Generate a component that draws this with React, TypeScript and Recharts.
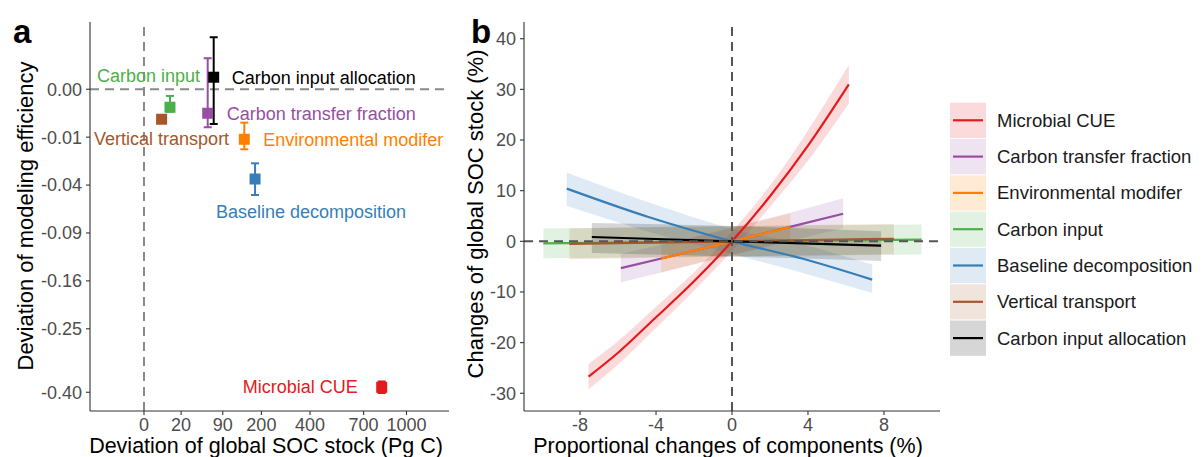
import React from "react";
import {
  ScatterChart,
  Scatter,
  ErrorBar,
  ComposedChart,
  Area,
  Line,
  XAxis,
  YAxis,
  ReferenceLine,
} from "recharts";

const FONT = "'Liberation Sans', Arial, Helvetica, sans-serif";

// parameter groups, in legend order
const PARAMS = [
  "Microbial CUE",
  "Carbon transfer fraction",
  "Environmental modifer",
  "Carbon input",
  "Baseline decomposition",
  "Vertical transport",
  "Carbon input allocation",
];
const COLORS = ["#E41A1C", "#984EA3", "#FF7F00", "#4DAF4A", "#377EB8", "#A65628", "#000000"];

// panel a: deviation of SOC stock (Pg C) vs deviation of modeling efficiency
const SOC_DEV = [820, 58.9, 146, 9.8, 179, 4.5, 70.5];
const EFF_DEV = [-0.387, -0.00251, -0.0109, -0.00141, -0.0351, -0.00392, 0.00063];
const EFF_LOW = [-0.402, -0.00629, -0.0157, -0.00219, -0.0487, -0.00392, -0.00525];
const EFF_HIGH = [-0.372, 0.00419, -0.00486, -0.000196, -0.0239, -0.00392, 0.01178];

const A_X_TICKS = [0, 20, 90, 200, 400, 700, 1000];
const A_Y_TICKS = [0, -0.01, -0.04, -0.09, -0.16, -0.25, -0.4];

// panel b: response curves (x = proportional change %, y = SOC change %)
const CUE_X = [-7.55, -6, -4, -2, 0, 2, 4, 6.15];
const CUE_Y = [-26.7, -22, -15, -7.9, 0, 8.9, 18.9, 31];
const CUE_LO = [-29.2, -24.3, -17.1, -9.7, -1.9, 6.8, 15.9, 27.2];
const CUE_HI = [-24.2, -19.7, -12.9, -6.1, 1.9, 11, 21.9, 34.8];

const CTF_X = [-5.85, -3, 0, 3, 5.85];
const CTF_Y = [-5.3, -2.75, 0, 2.8, 5.45];
const CTF_LO = [-8.1, -5.5, -2.8, 0, 2.6];
const CTF_HI = [-2.5, 0, 2.8, 5.6, 8.5];

const ENV_X = [-3.73, 0, 3.07];
const ENV_Y = [-3.4, 0, 2.83];
const ENV_LO = [-6.1, -2.6, 0.1];
const ENV_HI = [-0.7, 2.6, 5.5];

const CIN_X = [-9.93, 0, 9.98];
const CIN_Y = [-0.4, 0, 0.35];
const CIN_LO = [-3.35, -2.95, -2.6];
const CIN_HI = [2.55, 2.95, 3.3];

const BASE_X = [-8.7, -4.4, 0, 3.69, 7.38];
const BASE_Y = [10.4, 4.8, 0, -3.4, -7.57];
const BASE_LO = [7, 1.9, -2.5, -6.2, -10.2];
const BASE_HI = [13.6, 7.7, 2.5, -0.6, -4.6];

const VT_X = [-8.56, 0, 8.52];
const VT_Y = [-0.5, 0, 0.5];
const VT_LO = [-3.55, -3, -2.55];
const VT_HI = [2.55, 3, 3.4];

const CIA_X = [-7.38, 0, 7.85];
const CIA_Y = [0.85, 0, -0.85];
const CIA_LO = [-2.3, -3, -3.9];
const CIA_HI = [3.6, 3, 2];

const B_X_TICKS = [-8, -4, 0, 4, 8];
const B_Y_TICKS = [-30, -20, -10, 0, 10, 20, 30, 40];

// where each point label sits relative to its marker
const LABEL_POS: Record<string, { anchor: "start" | "middle" | "end"; dx: number; dy: number }> = {
  "Microbial CUE": { anchor: "end", dx: -24, dy: 0 },
  "Carbon transfer fraction": { anchor: "start", dx: 19, dy: 0.5 },
  "Environmental modifer": { anchor: "start", dx: 19, dy: 0.5 },
  "Carbon input": { anchor: "end", dx: 30, dy: -31 },
  "Baseline decomposition": { anchor: "middle", dx: 56, dy: 33 },
  "Vertical transport": { anchor: "middle", dx: 0, dy: 20 },
  "Carbon input allocation": { anchor: "start", dx: 18, dy: 0.5 },
};

const buildRows = (xs: number[], ys: number[], lo: number[], hi: number[]) =>
  xs.map((x, i) => ({ x, y: ys[i], band: [lo[i], hi[i]] }));

const CURVES = [
  buildRows(CUE_X, CUE_Y, CUE_LO, CUE_HI),
  buildRows(CTF_X, CTF_Y, CTF_LO, CTF_HI),
  buildRows(ENV_X, ENV_Y, ENV_LO, ENV_HI),
  buildRows(CIN_X, CIN_Y, CIN_LO, CIN_HI),
  buildRows(BASE_X, BASE_Y, BASE_LO, BASE_HI),
  buildRows(VT_X, VT_Y, VT_LO, VT_HI),
  buildRows(CIA_X, CIA_Y, CIA_LO, CIA_HI),
];

const tickStyle = { fill: "#4d4d4d", fontSize: 18, fontFamily: FONT };
const axisLine = { stroke: "#333", strokeWidth: 1.1 };

const markerShape = (name: string, color: string) => (props: any) => {
  const { cx, cy } = props;
  const lp = LABEL_POS[name];
  return (
    <g>
      <rect x={cx - 5.5} y={cy - 5.5} width={11} height={11} fill={color} />
      <text
        x={cx + lp.dx}
        y={cy + lp.dy}
        textAnchor={lp.anchor}
        dominantBaseline="central"
        fill={color}
        fontSize={18}
        fontFamily={FONT}
      >
        {name}
      </text>
    </g>
  );
};

function PanelA() {
  return (
    <ScatterChart width={460} height={457} margin={{ top: 22, right: 11, bottom: 0, left: 0 }}>
      <XAxis
        type="number"
        dataKey="x"
        scale="sqrt"
        domain={[-42.3, 1350]}
        ticks={A_X_TICKS}
        allowDataOverflow
        height={46}
        tick={tickStyle}
        tickSize={4}
        tickMargin={3}
        axisLine={axisLine}
        tickLine={axisLine}
      />
      <YAxis
        type="number"
        dataKey="y"
        scale="sqrt"
        domain={[-0.451, 0.0197]}
        ticks={A_Y_TICKS}
        allowDataOverflow
        width={90}
        tick={tickStyle}
        tickSize={4}
        tickMargin={4}
        tickFormatter={(v: number) => v.toFixed(2)}
        axisLine={axisLine}
        tickLine={axisLine}
      />
      <ReferenceLine x={0} stroke="#8a8a8a" strokeWidth={2} strokeDasharray="9 6" />
      <ReferenceLine y={0} stroke="#8a8a8a" strokeWidth={2} strokeDasharray="9 6" />
      {PARAMS.map((name, i) => (
        <Scatter
          key={name}
          data={[
            {
              x: SOC_DEV[i],
              y: EFF_DEV[i],
              err: [EFF_DEV[i] - EFF_LOW[i], EFF_HIGH[i] - EFF_DEV[i]],
            },
          ]}
          fill={COLORS[i]}
          shape={markerShape(name, COLORS[i])}
          isAnimationActive={false}
        >
          <ErrorBar dataKey="err" direction="y" width={4} stroke={COLORS[i]} strokeWidth={2} />
        </Scatter>
      ))}
    </ScatterChart>
  );
}

function PanelB() {
  return (
    <ComposedChart width={490} height={457} margin={{ top: 22, right: 10, bottom: 0, left: 0 }}>
      <XAxis
        type="number"
        dataKey="x"
        domain={[-10.95, 10.95]}
        ticks={B_X_TICKS}
        allowDataOverflow
        height={46}
        tick={tickStyle}
        tickSize={4}
        tickMargin={3}
        axisLine={axisLine}
        tickLine={axisLine}
      />
      <YAxis
        type="number"
        domain={[-33.5, 43.3]}
        ticks={B_Y_TICKS}
        allowDataOverflow
        width={64}
        tick={tickStyle}
        tickSize={4}
        tickMargin={4}
        axisLine={axisLine}
        tickLine={axisLine}
      />
      {CURVES.map((rows, i) => (
        <Area
          key={"band-" + PARAMS[i]}
          data={rows}
          dataKey="band"
          type="monotone"
          stroke="none"
          fill={COLORS[i]}
          fillOpacity={0.16}
          isAnimationActive={false}
        />
      ))}
      {CURVES.map((rows, i) => (
        <Line
          key={"line-" + PARAMS[i]}
          data={rows}
          dataKey="y"
          type="monotone"
          stroke={COLORS[i]}
          strokeWidth={2.2}
          dot={false}
          isAnimationActive={false}
        />
      ))}
      <ReferenceLine x={0} stroke="#555" strokeWidth={2} strokeDasharray="9 6" />
      <ReferenceLine y={0} stroke="#555" strokeWidth={2} strokeDasharray="9 6" />
    </ComposedChart>
  );
}

function Overlay() {
  return (
    <svg
      width={1204}
      height={457}
      style={{ position: "absolute", left: 0, top: 0, pointerEvents: "none" }}
      fontFamily={FONT}
    >
      <text x={13} y={43} fontSize={33} fontWeight="bold" fill="#000">a</text>
      <text x={471} y={43} fontSize={33} fontWeight="bold" fill="#000">b</text>

      <text x={266} y={452.5} fontSize={21.5} textAnchor="middle" fill="#000">
        Deviation of global SOC stock (Pg C)
      </text>
      <text
        x={33}
        y={216}
        fontSize={22}
        textAnchor="middle"
        fill="#000"
        transform="rotate(-90 33 216)"
      >
        Deviation of modeling efficiency
      </text>

      <text x={728} y={452.5} fontSize={21.5} textAnchor="middle" fill="#000">
        Proportional changes of components (%)
      </text>
      <text
        x={483}
        y={214}
        fontSize={22}
        textAnchor="middle"
        fill="#000"
        transform="rotate(-90 483 214)"
      >
        Changes of global SOC stock (%)
      </text>

      {PARAMS.map((name, i) => {
        const top = 102.7 + i * 36.3;
        return (
          <g key={name}>
            <rect x={950} y={top} width={36} height={35.3} fill={COLORS[i]} fillOpacity={0.16} />
            <line
              x1={953}
              x2={983}
              y1={top + 17.6}
              y2={top + 17.6}
              stroke={COLORS[i]}
              strokeWidth={2.2}
            />
            <text
              x={997}
              y={top + 17.6}
              fontSize={18.5}
              dominantBaseline="central"
              fill="#1a1a1a"
            >
              {name}
            </text>
          </g>
        );
      })}
    </svg>
  );
}

export default function App() {
  return (
    <div
      style={{
        position: "absolute",
        left: 0,
        top: 0,
        width: 1204,
        height: 457,
        background: "#fff",
        fontFamily: FONT,
      }}
    >
      <div style={{ position: "absolute", left: 0, top: 0 }}>
        <PanelA />
      </div>
      <div style={{ position: "absolute", left: 460, top: 0 }}>
        <PanelB />
      </div>
      <Overlay />
    </div>
  );
}
